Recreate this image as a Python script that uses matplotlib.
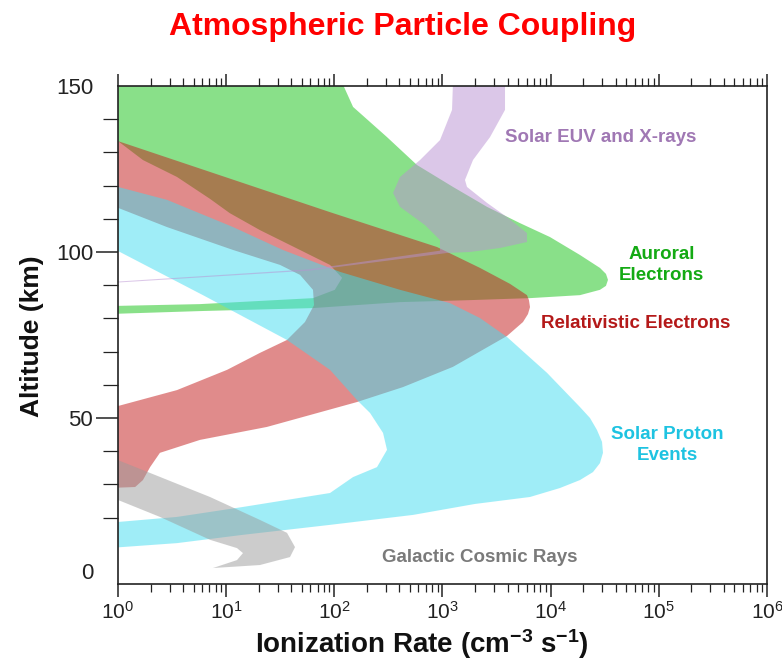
import matplotlib
matplotlib.use("Agg")
import matplotlib.pyplot as plt

plt.rcParams['font.family'] = ['Liberation Sans', 'DejaVu Sans']
plt.rcParams['mathtext.fontset'] = 'custom'
plt.rcParams['mathtext.rm'] = 'Liberation Sans'
plt.rcParams['mathtext.bf'] = 'Liberation Sans:bold'
plt.rcParams['mathtext.it'] = 'Liberation Sans:italic'

# outlines of each band: ionization rate (cm^-3 s^-1) vs altitude (km)
green_x = [0.8, 118, 149, 307, 581, 1250, 2578, 5200, 9860, 18660, 28560, 32460, 33880, 32460,
           28560, 18660, 6442, 1796, 405, 63.5, 5.73, 0.8, 0.8, 5.73, 63.5, 101, 118, 91.2, 48.2,
           20.5, 10.8, 7.09, 3.51, 1.70, 1.0, 0.8]
green_alt = [151, 151, 143.7, 134.6, 126.2, 119.6, 113.6, 108.7, 104.5, 99.1, 95.2, 93.4, 91.6, 89.8,
             88.6, 87.0, 86.1, 85.5, 84.9, 83.1, 82.2, 81.3, 83.7, 84.3, 86.1, 88.6, 92.2, 96.1, 100.6,
             106.6, 111.7, 116.0, 122.6, 127.7, 133.4, 133.4]

red_x = [0.8, 1.0, 91.2, 889, 2222, 4207, 6040, 6300, 6442, 6170, 5547, 3947, 1250, 431, 162,
         23.8, 5.73, 2.44, 1.98, 1.70, 1.44, 0.8, 0.8, 1.0, 3.51, 10.2, 20.5, 36.5, 53.5, 64.9,
         63.5, 48.2, 31.5, 11.6, 2.84, 1.0, 0.8]
red_alt = [133.4, 133.4, 112.0, 101.5, 95.2, 90.4, 87.0, 85.5, 83.4, 81.3, 78.9, 74.7, 65.4, 59.3, 54.8,
           47.3, 43.4, 39.5, 35.2, 31.3, 29.2, 28.9, 53.6, 53.6, 58.4, 64.5, 69.6, 73.5, 78.9, 84.0,
           88.6, 93.1, 96.1, 100.6, 107.5, 113.3, 113.3]

cyan_x = [0.8, 1.0, 2.84, 11.6, 33.5, 113, 405, 1173, 2222, 3947, 9250, 18660, 23100, 26790,
          29850, 30460, 28560, 24620, 18660, 12190, 6442, 1995, 534, 91.2, 14.3, 3.51, 0.8, 0.8,
          3.51, 14.3, 91.2, 149, 248, 307, 282, 214, 162, 91.2, 36.5, 6.1, 1.0, 0.8]
cyan_alt = [119.6, 119.6, 115.7, 107.5, 100.6, 94.0, 88.6, 84.6, 80.1, 74.4, 63.6, 53.3, 50.0, 46.4,
            42.8, 39.5, 36.4, 33.7, 31.3, 28.9, 26.2, 24.1, 20.8, 17.8, 14.8, 12.3, 10.8, 18.4,
            20.2, 23.2, 27.4, 32.2, 35.2, 40.4, 45.5, 51.5, 55.4, 64.5, 73.5, 87.0, 100.3, 100.3]

euv_x = [3784, 3784, 2750, 1914, 1614, 1684, 2578, 3947, 6040, 6040, 3403, 1796, 1101, 59.6, 1.0,
         0.8, 0.8, 1.0, 59.6, 948, 948, 689, 405, 349, 405, 620, 948, 1225, 1250]
euv_alt = [151, 142.8, 134.6, 127.7, 121.7, 119.6, 114.8, 110.5, 105.7, 103.0, 101.2, 100.0, 99.7, 94.4, 90.8,
           90.8, 91.1, 91.1, 94.8, 100.4, 103.6, 108.1, 113.6, 117.8, 122.6, 127.7, 133.7, 142.8, 151]

gcr_x = [0.8, 1.0, 1.70, 7.09, 20.5, 36.5, 43.3, 38.9, 20.5, 7.55, 12.6, 14.3, 12.6, 7.09, 2.44, 1.0, 0.8]
gcr_alt = [37.3, 37.3, 34.3, 26.2, 19.3, 15.4, 11.1, 8.1, 5.7, 4.8, 7.2, 9.3, 10.8, 13.3, 20.2, 25.3, 25.3]

y_major = [0, 50, 100, 150]
y_minor = [20, 30, 40, 60, 70, 80, 90, 110, 120, 130, 140]

fig = plt.figure(figsize=(7.82, 6.6), dpi=100)
ax = fig.add_axes([0.1509, 0.1152, 0.8299, 0.7545])

# drawing order matters for the overlap colours
ax.fill(green_x, green_alt, color='#15c315', alpha=0.5, lw=0)
ax.fill(red_x, red_alt, color='#c31919', alpha=0.5, lw=0)
ax.fill(cyan_x, cyan_alt, color='#41ddf1', alpha=0.5, lw=0)
ax.fill(euv_x, euv_alt, color='#b991d2', alpha=0.5, lw=0)
ax.fill(gcr_x, gcr_alt, color='#9b9b9b', alpha=0.5, lw=0)

ax.set_xscale('log')
ax.set_xlim(1, 1e6)
ax.set_ylim(0, 150)
ax.set_yticks(y_major)
ax.set_yticks(y_minor, minor=True)

for s in ax.spines.values():
    s.set_linewidth(1.2)
    s.set_color('#222222')

ax.tick_params(axis='x', which='both', top=True, bottom=True, direction='out',
               labelsize=15, color='#222222', labelcolor='#222222', pad=3)
ax.tick_params(axis='x', which='major', length=9, width=1.1)
ax.tick_params(axis='x', which='minor', length=5.5, width=0.9)
ax.tick_params(axis='y', which='both', direction='out', labelsize=16,
               color='#222222', labelcolor='#222222', pad=2)
ax.tick_params(axis='y', which='major', length=16, width=1.1)
ax.tick_params(axis='y', which='minor', length=11, width=0.9)

# no tick marks at the corners, only labels; the 0 sits a bit higher
yt = ax.yaxis.get_major_ticks()
yt[0].tick1line.set_visible(False)
yt[-1].tick1line.set_visible(False)
ax.get_yticklabels()[0].set_verticalalignment('bottom')

# band names
ax.text(0.743, 0.896, 'Solar EUV and X-rays', transform=ax.transAxes, ha='center', va='center',
        fontsize=13.5, fontweight='bold', color='#a078b4')
ax.text(0.838, 0.641, 'Auroral\nElectrons', transform=ax.transAxes, ha='center', va='center',
        fontsize=13.5, fontweight='bold', color='#14aa14', linespacing=1.3)
ax.text(0.798, 0.524, 'Relativistic Electrons', transform=ax.transAxes, ha='center', va='center',
        fontsize=13.5, fontweight='bold', color='#b41919')
ax.text(0.847, 0.279, 'Solar Proton\nEvents', transform=ax.transAxes, ha='center', va='center',
        fontsize=13.5, fontweight='bold', color='#1ec3e1', linespacing=1.3)
ax.text(0.558, 0.054, 'Galactic Cosmic Rays', transform=ax.transAxes, ha='center', va='center',
        fontsize=13.5, fontweight='bold', color='#7a7a7a')

fig.text(0.515, 0.959, 'Atmospheric Particle Coupling', ha='center', va='center',
         fontsize=23, fontweight='bold', color='#ff0000')
fig.text(0.539, 0.010, r'Ionization Rate (cm$^{\mathbf{-3}}$ s$^{\mathbf{-1}}$)', ha='center',
         va='baseline', fontsize=20, fontweight='bold', color='#111111')
fig.text(0.041, 0.491, 'Altitude (km)', rotation=90, ha='center', va='center',
         fontsize=19, fontweight='bold', color='#111111')

fig.savefig('out.png', dpi=100, facecolor='white')
